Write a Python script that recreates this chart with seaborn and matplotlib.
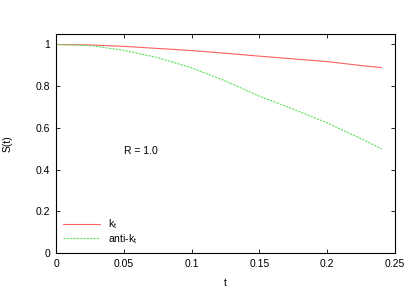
import pandas as pd
import matplotlib
matplotlib.use("Agg")
import matplotlib.pyplot as plt
import seaborn as sns

# values
t_vals = [0.0, 0.025, 0.05, 0.075, 0.1, 0.125, 0.15, 0.175, 0.2, 0.225, 0.24]
kt_vals = [1.0, 0.998, 0.991, 0.981, 0.971, 0.958, 0.944, 0.931, 0.918, 0.899, 0.889]
antikt_vals = [1.0, 0.995, 0.972, 0.937, 0.888, 0.825, 0.752, 0.69, 0.624, 0.548, 0.50]
series_labels = ["k$_t$", "anti-k$_t$"]

df = pd.concat([
    pd.DataFrame({"t": t_vals, "S": kt_vals, "alg": series_labels[0]}),
    pd.DataFrame({"t": t_vals, "S": antikt_vals, "alg": series_labels[1]}),
])

sns.set_style("ticks")
plt.rcParams["font.family"] = ["Liberation Sans", "DejaVu Sans"]
plt.rcParams["mathtext.fontset"] = "custom"
plt.rcParams["mathtext.rm"] = "Liberation Sans"
plt.rcParams["mathtext.it"] = "Liberation Sans"
plt.rcParams["text.color"] = "black"
plt.rcParams["axes.labelcolor"] = "black"
plt.rcParams["xtick.color"] = "black"
plt.rcParams["ytick.color"] = "black"
plt.rcParams["axes.edgecolor"] = "black"

fs = 7.5
fig, ax = plt.subplots(figsize=(4.15, 2.91), dpi=100)
fig.subplots_adjust(left=0.135, right=0.952, top=0.883, bottom=0.13)

sns.lineplot(data=df, x="t", y="S", hue="alg", style="alg",
             palette={series_labels[0]: "#ff6060", series_labels[1]: "#60e060"},
             dashes={series_labels[0]: "", series_labels[1]: (2, 1)},
             linewidth=0.8, ax=ax)

ax.set_xlim(0, 0.25)
ax.set_ylim(0, 1.05)
ax.set_xticks([0, 0.05, 0.1, 0.15, 0.2, 0.25])
ax.set_xticklabels(["0", "0.05", "0.1", "0.15", "0.2", "0.25"])
ax.set_yticks([0, 0.2, 0.4, 0.6, 0.8, 1.0])
ax.set_yticklabels(["0", "0.2", "0.4", "0.6", "0.8", "1"])
ax.tick_params(direction="in", top=True, right=True, labelsize=fs, length=3, width=0.6, pad=4)
for s in ax.spines.values():
    s.set_linewidth(0.8)

ax.set_xlabel("t", fontsize=fs, labelpad=7)
ax.set_ylabel("S(t)", fontsize=fs, labelpad=17)
ax.text(0.05, 0.49, "R = 1.0", fontsize=fs, va="center")

leg = ax.legend(loc="lower left", frameon=False, fontsize=fs, handlelength=3.5,
                borderaxespad=0.3, labelspacing=0.1, handletextpad=0.8)

fig.savefig("out.png", dpi=100)
